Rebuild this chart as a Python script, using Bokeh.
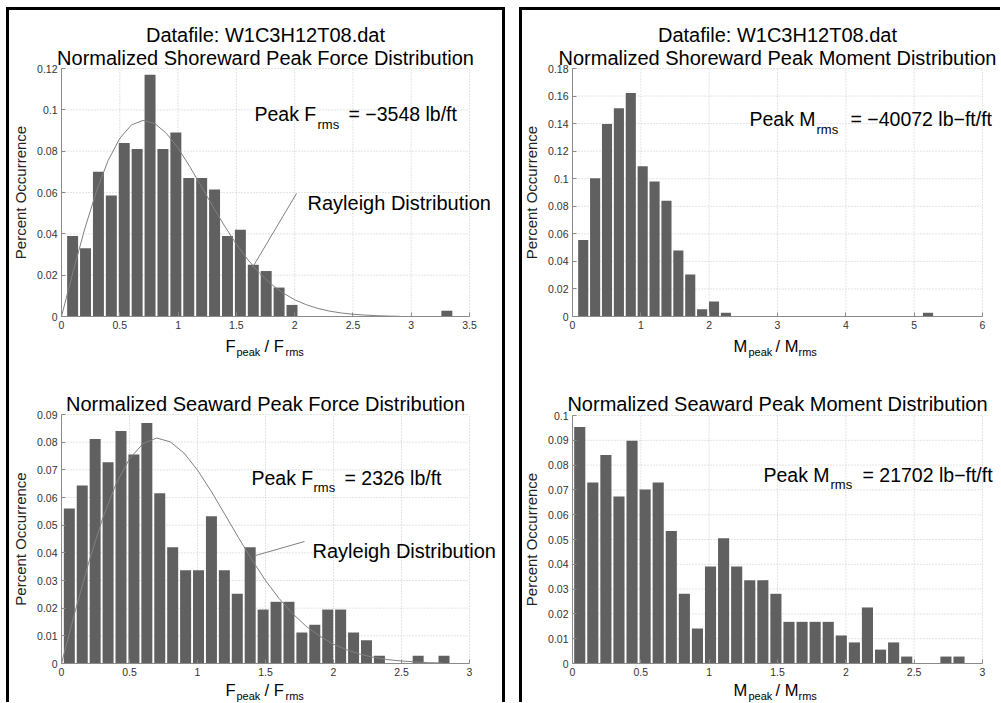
from bokeh.plotting import figure
from bokeh.models import Column, Row, Label, Arrow, FixedTicker, NumeralTickFormatter, Range1d, LinearAxis
from bokeh.embed import file_html
from bokeh.resources import INLINE

FONT = "Liberation Sans"
BAR = "#606060"
CURVE = "#808080"

# ---------------- data ----------------
# Top-left: Normalized Shoreward Peak Force Distribution
fs_centers = [0.0954, 0.2061, 0.3168, 0.4275, 0.5382, 0.6489, 0.7596, 0.8703, 0.9810, 1.0917,
              1.2024, 1.3131, 1.4238, 1.5345, 1.6452, 1.7559, 1.8666, 1.9773, 2.0880, 2.1987,
              2.3094, 2.4201, 2.5308, 2.6415, 2.7522, 2.8629, 2.9736, 3.0843, 3.1950, 3.3057]
fs_values = [0.039, 0.033, 0.070, 0.0585, 0.084, 0.081, 0.117, 0.081, 0.089, 0.067,
             0.067, 0.0615, 0.039, 0.042, 0.025, 0.022, 0.014, 0.0056, 0, 0,
             0, 0, 0, 0, 0, 0, 0, 0, 0, 0.0028]
fs_binw = 0.1107
fs_curve_x = [0.0, 0.1, 0.2, 0.3, 0.4, 0.5, 0.6, 0.7, 0.8, 0.9, 1.0, 1.1, 1.2, 1.3, 1.4,
              1.5, 1.6, 1.7, 1.8, 1.9, 2.0, 2.1, 2.2, 2.3, 2.4, 2.5, 2.6, 2.7, 2.8, 2.9]
fs_curve_y = [0.0, 0.0219, 0.0425, 0.0607, 0.0755, 0.0862, 0.0927, 0.0949, 0.0934, 0.0886,
              0.0815, 0.0726, 0.0629, 0.0531, 0.0437, 0.0350, 0.0274, 0.0209, 0.0156, 0.0114,
              0.0081, 0.0057, 0.0039, 0.0026, 0.0017, 0.0011, 0.0007, 0.0004, 0.0002, 0.0001]
fs_xticks = [0, 0.5, 1, 1.5, 2, 2.5, 3, 3.5]
fs_yticks = [0, 0.02, 0.04, 0.06, 0.08, 0.1, 0.12]

# Bottom-left: Normalized Seaward Peak Force Distribution
fw_centers = [0.0575, 0.1525, 0.2475, 0.3425, 0.4375, 0.5325, 0.6275, 0.7225, 0.8175, 0.9125,
              1.0075, 1.1025, 1.1975, 1.2925, 1.3875, 1.4825, 1.5775, 1.6725, 1.7675, 1.8625,
              1.9575, 2.0525, 2.1475, 2.2425, 2.3375, 2.4325, 2.5275, 2.6225, 2.7175, 2.8125]
fw_values = [0.056, 0.0643, 0.0811, 0.0727, 0.084, 0.0755, 0.0869, 0.0615, 0.042, 0.0337,
             0.0337, 0.0532, 0.0337, 0.0252, 0.042, 0.0195, 0.0223, 0.0223, 0.0112, 0.014,
             0.0195, 0.0195, 0.0112, 0.0084, 0.0028, 0, 0, 0.0028, 0, 0.0028]
fw_binw = 0.095
fw_curve_x = [0.0, 0.1, 0.2, 0.3, 0.4, 0.5, 0.6, 0.7, 0.8, 0.9, 1.0, 1.1, 1.2, 1.3, 1.4,
              1.5, 1.6, 1.7, 1.8, 1.9, 2.0, 2.1, 2.2, 2.3, 2.4, 2.5, 2.6, 2.7, 2.8]
fw_curve_y = [0.0, 0.0188, 0.0365, 0.0521, 0.0648, 0.0740, 0.0795, 0.0815, 0.0801, 0.0761,
              0.0699, 0.0623, 0.0540, 0.0456, 0.0375, 0.0300, 0.0235, 0.0180, 0.0134, 0.0098,
              0.0070, 0.0049, 0.0033, 0.0022, 0.0014, 0.0009, 0.0006, 0.0003, 0.0002]
fw_xticks = [0, 0.5, 1, 1.5, 2, 2.5, 3]
fw_yticks = [0, 0.01, 0.02, 0.03, 0.04, 0.05, 0.06, 0.07, 0.08, 0.09]

# Top-right: Normalized Shoreward Peak Moment Distribution
ms_centers = [0.157, 0.331, 0.505, 0.679, 0.853, 1.027, 1.201, 1.375, 1.549, 1.723,
              1.897, 2.071, 2.245, 2.419, 2.593, 2.767, 2.941, 3.115, 3.289, 3.463,
              3.637, 3.811, 3.985, 4.159, 4.333, 4.507, 4.681, 4.855, 5.029, 5.203]
ms_values = [0.0556, 0.1004, 0.1398, 0.1512, 0.1623, 0.1091, 0.098, 0.084, 0.0479, 0.0305,
             0.0053, 0.0109, 0.0027, 0, 0, 0, 0, 0, 0, 0,
             0, 0, 0, 0, 0, 0, 0, 0, 0, 0.0027]
ms_binw = 0.174
ms_xticks = [0, 1, 2, 3, 4, 5, 6]
ms_yticks = [0, 0.02, 0.04, 0.06, 0.08, 0.1, 0.12, 0.14, 0.16, 0.18]

# Bottom-right: Normalized Seaward Peak Moment Distribution
mw_centers = [0.0529, 0.1486, 0.2443, 0.3400, 0.4357, 0.5314, 0.6271, 0.7228, 0.8185, 0.9142,
              1.0099, 1.1056, 1.2013, 1.2970, 1.3927, 1.4884, 1.5841, 1.6798, 1.7755, 1.8712,
              1.9669, 2.0626, 2.1583, 2.2540, 2.3497, 2.4454, 2.5411, 2.6368, 2.7325, 2.8282]
mw_values = [0.0954, 0.073, 0.0841, 0.0673, 0.0898, 0.0702, 0.073, 0.0534, 0.0281, 0.0141,
             0.0391, 0.0505, 0.0391, 0.0336, 0.0336, 0.0281, 0.0168, 0.0168, 0.0168, 0.0168,
             0.0113, 0.0085, 0.0226, 0.0056, 0.0085, 0.0028, 0, 0, 0.0028, 0.0028]
mw_binw = 0.0957
mw_xticks = [0, 0.5, 1, 1.5, 2, 2.5, 3]
mw_yticks = [0, 0.01, 0.02, 0.03, 0.04, 0.05, 0.06, 0.07, 0.08, 0.09, 0.1]

DATAFILE = "Datafile: W1C3H12T08.dat"


class Panel:
    """A figure whose frame fills the whole canvas; the axes are drawn at data 0."""

    def __init__(self, origin, size, fx, fy, xr, yr, xticks, yticks):
        ox, oy = origin
        W, H = size
        self.fx0, self.fy0 = fx[0], fy[0]
        self.sx = (xr[1] - xr[0]) / (fx[1] - fx[0])
        self.sy = (yr[1] - yr[0]) / (fy[0] - fy[1])
        self.xr, self.yr = xr, yr
        xs = xr[0] - (fx[0] - ox) * self.sx
        ys = yr[0] - (oy + H - fy[0]) * self.sy
        p = figure(width=W, height=H, x_range=Range1d(xs, xs + W * self.sx),
                   y_range=Range1d(ys, ys + H * self.sy),
                   x_axis_location=None, y_axis_location=None,
                   output_backend="svg", toolbar_location=None, min_border=0)
        p.title.visible = False
        p.grid.visible = False
        p.outline_line_color = None
        p.background_fill_color = "white"
        p.border_fill_color = "white"
        # dotted grid inside the data box
        gx = [t for t in xticks if t != xr[0]]
        gy = [t for t in yticks if t != yr[0]]
        p.segment(x0=gx, y0=[yr[0]] * len(gx), x1=gx, y1=[yr[1]] * len(gx),
                  line_color="#c8c8c8", line_dash="1 2", line_width=1)
        p.segment(x0=[xr[0]] * len(gy), y0=gy, x1=[xr[1]] * len(gy), y1=gy,
                  line_color="#c8c8c8", line_dash="1 2", line_width=1)
        xa = LinearAxis(fixed_location=yr[0], bounds=xr)
        ya = LinearAxis(fixed_location=xr[0], bounds=yr, axis_label="Percent Occurrence")
        for ax, ticks in ((xa, xticks), (ya, yticks)):
            ax.ticker = FixedTicker(ticks=ticks)
            ax.formatter = NumeralTickFormatter(format="0.[00]")
            ax.axis_line_color = "#8a8a8a"
            ax.major_tick_line_color = "#8a8a8a"
            ax.major_tick_in = 4
            ax.major_tick_out = 0
            ax.minor_tick_line_color = None
            ax.major_label_text_font = FONT
            ax.major_label_text_font_size = "10.5px"
            ax.major_label_text_color = "#333333"
            ax.major_label_standoff = 4
        ya.axis_label_text_font = FONT
        ya.axis_label_text_font_size = "15px"
        ya.axis_label_text_font_style = "normal"
        ya.axis_label_text_color = "#222222"
        ya.axis_label_standoff = 5
        p.add_layout(xa, "below")
        p.add_layout(ya, "left")
        self.p = p

    def d(self, px, py):
        return (self.xr[0] + (px - self.fx0) * self.sx, self.yr[0] + (self.fy0 - py) * self.sy)

    def text(self, px, py, text, size, align="left"):
        x, y = self.d(px, py)
        self.p.add_layout(Label(x=x, y=y, text=text, text_font=FONT, text_font_size=size,
                                text_color="black", text_align=align,
                                text_baseline="alphabetic"))

    def leader(self, a, b):
        x0, y0 = self.d(*a)
        x1, y1 = self.d(*b)
        self.p.add_layout(Arrow(x_start=x0, y_start=y0, x_end=x1, y_end=y1, end=None,
                                line_color=CURVE, line_width=1))

    def axis_title(self, px, py, big, sub1, big2, sub2, offsets):
        self.text(px + offsets[0], py, big, "16.5px")
        self.text(px + offsets[1], py + 6, sub1, "11px")
        self.text(px + offsets[2], py, big2, "16.5px")
        self.text(px + offsets[3], py + 6, sub2, "11px")


# ---------------- Top-left ----------------
A = Panel((9, 10), (493, 349), (61, 469), (316, 68), (0, 3.5), (0, 0.12), fs_xticks, fs_yticks)
A.p.vbar(x=fs_centers, top=fs_values, width=fs_binw * 0.85, fill_color=BAR, line_color=None)
A.p.line(fs_curve_x, fs_curve_y, line_color=CURVE, line_width=1)
A.text(265, 34, DATAFILE, "20px", "center")
A.text(265, 57, "Normalized Shoreward Peak Force Distribution", "20px", "center")
A.text(254, 113, "Peak F", "19.5px")
A.text(317, 124, "rms", "13px")
A.text(348, 113, "= \u22123548 lb/ft", "19.5px")
A.text(307, 202, "Rayleigh Distribution", "20px")
A.leader((296, 193), (252, 267))
A.axis_title(225, 345, "F", "peak", "/ F", "rms", (0, 11, 39, 60))

# ---------------- Bottom-left ----------------
B = Panel((9, 359), (493, 343), (61, 469), (663, 414), (0, 3), (0, 0.09), fw_xticks, fw_yticks)
B.p.vbar(x=fw_centers, top=fw_values, width=fw_binw * 0.85, fill_color=BAR, line_color=None)
B.p.line(fw_curve_x, fw_curve_y, line_color=CURVE, line_width=1)
B.text(265, 403, "Normalized Seaward Peak Force Distribution", "20px", "center")
B.text(251, 477, "Peak F", "19.5px")
B.text(313, 487, "rms", "13px")
B.text(344, 477, "= 2326 lb/ft", "19.5px")
B.text(312, 550, "Rayleigh Distribution", "20px")
B.leader((304, 541), (255, 555))
B.axis_title(225, 689, "F", "peak", "/ F", "rms", (0, 11, 39, 60))

# ---------------- Top-right ----------------
C = Panel((522, 10), (478, 349), (572, 982), (316, 68), (0, 6), (0, 0.18), ms_xticks, ms_yticks)
C.p.vbar(x=ms_centers, top=ms_values, width=ms_binw * 0.85, fill_color=BAR, line_color=None)
C.text(777, 34, DATAFILE, "20px", "center")
C.text(777, 57, "Normalized Shoreward Peak Moment Distribution", "20px", "center")
C.text(749, 118, "Peak M", "19.5px")
C.text(816, 129, "rms", "13px")
C.text(850, 118, "= \u221240072 lb\u2212ft/ft", "19.5px")
C.axis_title(733, 345, "M", "peak", "/ M", "rms", (0, 15, 42, 65))

# ---------------- Bottom-right ----------------
D = Panel((522, 359), (478, 343), (572, 982), (663, 415), (0, 3), (0, 0.1), mw_xticks, mw_yticks)
D.p.vbar(x=mw_centers, top=mw_values, width=mw_binw * 0.85, fill_color=BAR, line_color=None)
D.text(777, 403, "Normalized Seaward Peak Moment Distribution", "20px", "center")
D.text(763, 474, "Peak M", "19.5px")
D.text(830, 484, "rms", "13px")
D.text(862, 474, "= 21702 lb\u2212ft/ft", "19.5px")
D.axis_title(733, 689, "M", "peak", "/ M", "rms", (0, 15, 42, 65))

left = Column(children=[A.p, B.p], spacing=0,
              styles={"border-left": "3px solid black", "border-top": "3px solid black",
                      "border-right": "3px solid black"})
right = Column(children=[C.p, D.p], spacing=0,
               styles={"border-left": "3px solid black", "border-top": "3px solid black"})
layout = Row(children=[left, right], spacing=14,
             styles={"margin-left": "6px", "margin-top": "7px"})

open("out.html", "w").write(file_html(layout, INLINE))
